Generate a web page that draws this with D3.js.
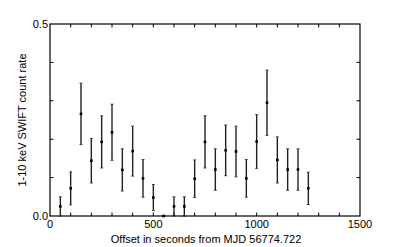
<!DOCTYPE html>
<html>
<head>
<meta charset="utf-8">
<script src="https://cdn.jsdelivr.net/npm/d3@7"></script>
<style>
  body { margin: 0; background: #fff; }
  svg text { font-family: "Liberation Sans", Arial, sans-serif; font-size: 11px; fill: #000; }
</style>
</head>
<body>
<svg width="399" height="247"></svg>
<script>
// offsets (s) from MJD 56774.722
const offsets = [50, 100, 150, 200, 250, 300, 350, 400, 450, 500, 550, 600, 650, 700,
                 750, 800, 850, 900, 950, 1000, 1050, 1100, 1150, 1200, 1250];
// 1-10 keV count rate
const rates = [0.025, 0.072, 0.266, 0.144, 0.193, 0.218, 0.120, 0.169, 0.098, 0.048, 0.0, 0.025, 0.025, 0.097,
               0.193, 0.121, 0.171, 0.168, 0.098, 0.194, 0.295, 0.146, 0.121, 0.121, 0.072];
const errors = [0.025, 0.043, 0.080, 0.058, 0.068, 0.073, 0.055, 0.065, 0.049, 0.034, 0.0, 0.025, 0.025, 0.049,
                0.068, 0.054, 0.066, 0.066, 0.049, 0.070, 0.085, 0.060, 0.054, 0.054, 0.042];
const xTickLabels = [0, 500, 1000, 1500];
const yTickLabels = [0.0, 0.5];

const svg = d3.select('svg');
const mLeft = 50, mRight = 360, mTop = 24, mBottom = 216;

const x = d3.scaleLinear().domain([0, 1500]).range([mLeft, mRight]);
const y = d3.scaleLinear().domain([0, 0.5]).range([mBottom, mTop]);

const pts = offsets.map((o, i) => ({x: o, v: rates[i], e: errors[i]}));

// minor ticks every 100 s and 0.1
const tk = 3.5;
const g = svg.append('g').attr('stroke', '#000').attr('stroke-width', 1);
d3.range(100, 1500, 100).forEach(t => {
  g.append('line').attr('x1', x(t)).attr('x2', x(t)).attr('y1', mBottom).attr('y2', mBottom - tk);
  g.append('line').attr('x1', x(t)).attr('x2', x(t)).attr('y1', mTop).attr('y2', mTop + tk);
});
d3.range(1, 5).map(k => k / 10).forEach(t => {
  g.append('line').attr('x1', mLeft).attr('x2', mLeft + tk).attr('y1', y(t)).attr('y2', y(t));
  g.append('line').attr('x1', mRight).attr('x2', mRight - tk).attr('y1', y(t)).attr('y2', y(t));
});

// error bars
const eb = svg.append('g').attr('stroke', '#222').attr('stroke-width', 1.4);
pts.forEach(d => {
  eb.append('line').attr('x1', x(d.x)).attr('x2', x(d.x)).attr('y1', y(d.v - d.e)).attr('y2', y(d.v + d.e));
  [d.v - d.e, d.v + d.e].forEach(v => {
    eb.append('line').attr('x1', x(d.x) - 1.5).attr('x2', x(d.x) + 1.5).attr('y1', y(v)).attr('y2', y(v))
      .attr('stroke-width', 0.8);
  });
});

svg.selectAll('.pt')
  .data(pts)
  .enter()
  .append('rect')
  .classed('pt', true)
  .attr('x', d => x(d.x) - 1.3)
  .attr('y', d => y(d.v) - 1.3)
  .attr('width', 2.6)
  .attr('height', 2.6)
  .attr('fill', '#000');

// frame
svg.append('rect')
  .attr('x', mLeft).attr('y', mTop)
  .attr('width', mRight - mLeft).attr('height', mBottom - mTop)
  .attr('fill', 'none').attr('stroke', '#000').attr('stroke-width', 1.2);

// tick labels
svg.selectAll('.xl')
  .data(xTickLabels)
  .enter()
  .append('text')
  .attr('x', d => x(d))
  .attr('y', mBottom + 12)
  .attr('text-anchor', 'middle')
  .text(d => d);

svg.selectAll('.yl')
  .data(yTickLabels)
  .enter()
  .append('text')
  .attr('x', mLeft - 2)
  .attr('y', d => y(d) + 4)
  .attr('text-anchor', 'end')
  .text(d => d.toFixed(1));

// axis titles
svg.append('text')
  .attr('x', (mLeft + mRight) / 2 + 1)
  .attr('y', 243)
  .attr('text-anchor', 'middle')
  .text('Offset in seconds from MJD 56774.722');

svg.append('text')
  .attr('transform', `translate(26, ${(mTop + mBottom) / 2}) rotate(-90)`)
  .attr('text-anchor', 'middle')
  .text('1-10 keV SWIFT count rate');
</script>
</body>
</html>
